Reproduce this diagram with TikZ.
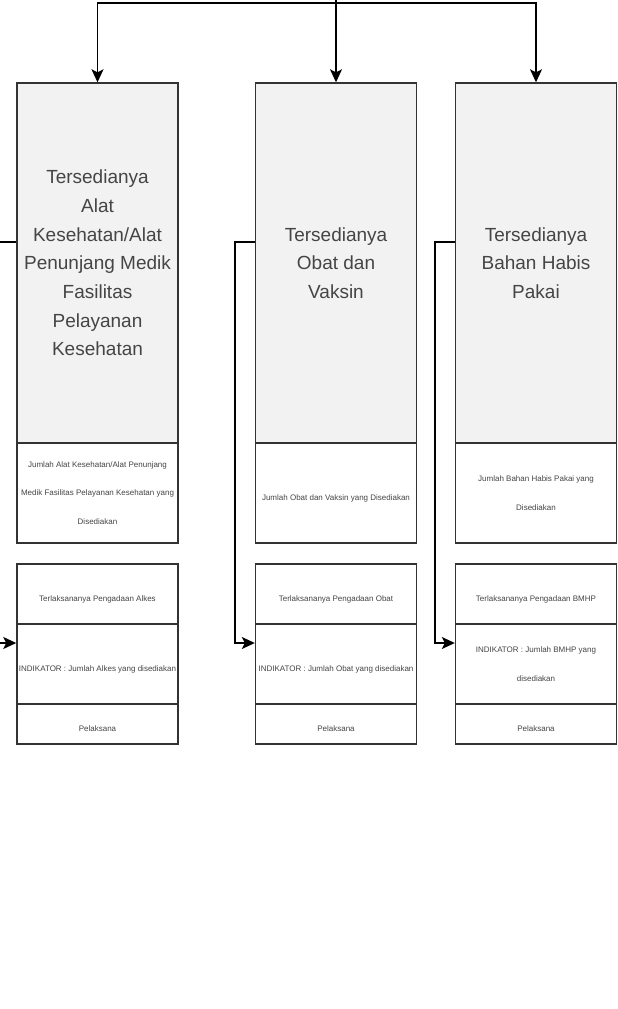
\documentclass[tikz,border=0pt]{standalone}
\usepackage{fontspec}
\setmainfont{Liberation Sans}
\usetikzlibrary{arrows.meta}

\begin{document}
\begin{tikzpicture}[x=1pt,y=-1pt,
  kotak/.style={draw=cline,line width=1.4pt,fill=white,text=ctext,minimum width=161pt,inner sep=2pt,align=center},
  besar/.style={kotak,fill=cfill,minimum height=360pt,font=\fontsize{19}{28.7}\selectfont},
  kecil/.style={kotak,font=\fontsize{8}{28.5}\selectfont,execute at begin node={\rule{0pt}{16pt}}},
  garis/.style={draw=black,line width=1.4pt},
  panah/.style={garis,-{Stealth[length=13pt,width=12pt,inset=3pt]}}]
\definecolor{cline}{rgb}{0.2,0.2,0.2}
\definecolor{cfill}{rgb}{0.95,0.95,0.95}
\definecolor{ctext}{rgb}{0.27,0.27,0.27}
\useasboundingbox (0,0) rectangle (618,1009);
%
\node[besar] (k1) at (97.5,263) {Tersedianya\\Alat\\Kesehatan/Alat\\Penunjang Medik\\Fasilitas\\Pelayanan\\Kesehatan};
\node[kecil,minimum height=100pt] (j1) at (97.5,493) {Jumlah Alat Kesehatan/Alat Penunjang\\Medik Fasilitas Pelayanan Kesehatan yang\\Disediakan};
\node[kecil,minimum height=60pt] (s1) at (97.5,594) {Terlaksananya Pengadaan Alkes};
\node[kecil,minimum height=80pt] (i1) at (97.5,664) {INDIKATOR : Jumlah Alkes yang disediakan};
\node[kecil,minimum height=40pt] (p1) at (97.5,724) {Pelaksana};
%
\node[besar] (k2) at (336,263) {Tersedianya\\Obat dan\\Vaksin};
\node[kecil,minimum height=100pt] (j2) at (336,493) {Jumlah Obat dan Vaksin yang Disediakan};
\node[kecil,minimum height=60pt] (s2) at (336,594) {Terlaksananya Pengadaan Obat};
\node[kecil,minimum height=80pt] (i2) at (336,664) {INDIKATOR : Jumlah Obat yang disediakan};
\node[kecil,minimum height=40pt] (p2) at (336,724) {Pelaksana};
%
\node[besar] (k3) at (536,263) {Tersedianya\\Bahan Habis\\Pakai};
\node[kecil,minimum height=100pt] (j3) at (536,493) {Jumlah Bahan Habis Pakai yang\\Disediakan};
\node[kecil,minimum height=60pt] (s3) at (536,594) {Terlaksananya Pengadaan BMHP};
\node[kecil,minimum height=80pt] (i3) at (536,664) {INDIKATOR : Jumlah BMHP yang\\disediakan};
\node[kecil,minimum height=40pt] (p3) at (536,724) {Pelaksana};
%
\coordinate (src) at (336,-10);
\coordinate (hub) at (336,3);
\draw[panah] (hub) -| (k1);
\draw[panah] (hub) -| (k3);
\draw[panah] (src) -- (k2);
%
\draw[panah] ([yshift=21pt]k1.west) -- ++(-20,0) |- ([yshift=21pt]i1.west);
\draw[panah] ([yshift=21pt]k2.west) -- ++(-20,0) |- ([yshift=21pt]i2.west);
\draw[panah] ([yshift=21pt]k3.west) -- ++(-20,0) |- ([yshift=21pt]i3.west);
%
\end{tikzpicture}
\end{document}
